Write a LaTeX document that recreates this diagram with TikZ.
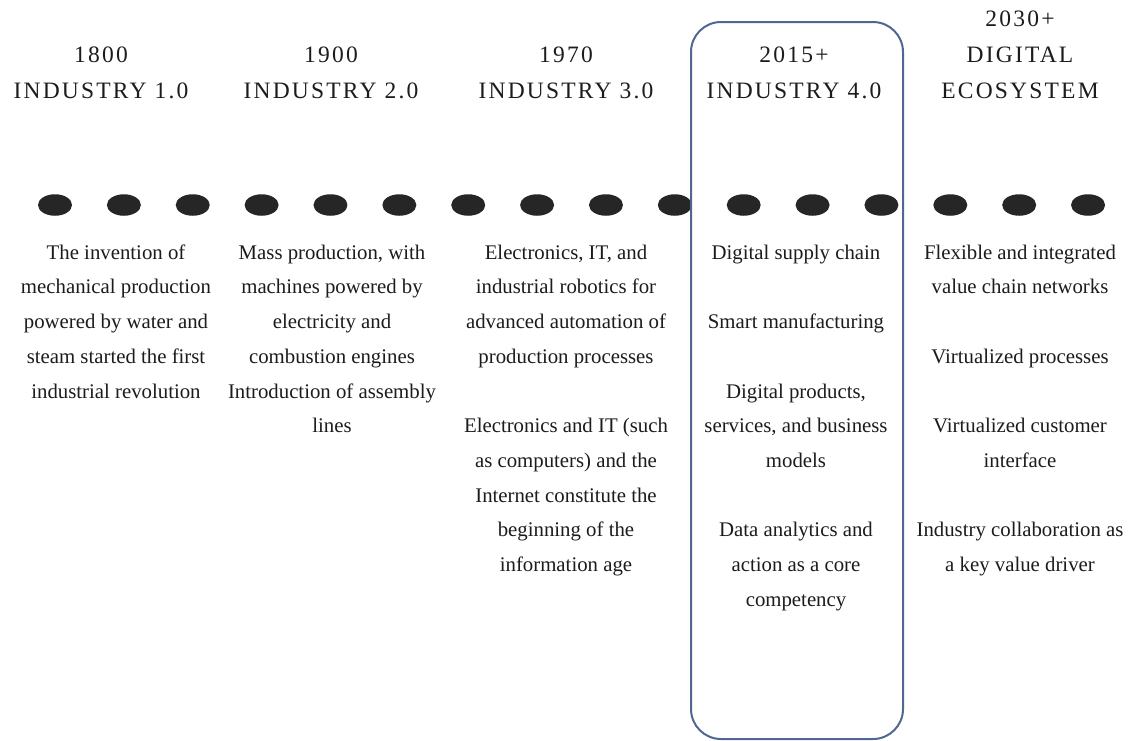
\documentclass[tikz,border=0pt]{standalone}
\usepackage{fontspec}
\setmainfont{Liberation Serif}
\newfontfamily\headfont[LetterSpace=9.4]{Liberation Serif}
\usetikzlibrary{shapes.geometric}
\definecolor{inkgray}{RGB}{28,28,28}
\definecolor{dotgray}{RGB}{38,38,38}
\definecolor{frameblue}{RGB}{80,104,145}
\begin{document}
\begin{tikzpicture}[x=1pt,y=-1pt,
  heading/.style={font=\headfont\fontsize{23.5}{28}\selectfont, text=inkgray, inner sep=0pt, anchor=base},
  bodytext/.style={font=\fontsize{20.8}{34.7}\selectfont, text=inkgray, inner sep=0pt, anchor=north, align=center},
  dotmark/.style={ellipse, fill=dotgray, minimum width=34pt, minimum height=21.5pt, inner sep=0pt},
  eraframe/.style={draw=frameblue, line width=2pt, rounded corners=30pt, inner sep=0pt}]

% canvas
\fill[white] (0,0) rectangle (1134,740);
\useasboundingbox (0,0) rectangle (1134,740);

% era headings
\node[heading] (year1) at (101,62) {1800};
\node[heading] (name1) at (101,98) {INDUSTRY 1.0};
\node[heading] (year2) at (331,62) {1900};
\node[heading] (name2) at (331,98) {INDUSTRY 2.0};
\node[heading] (year3) at (566,62) {1970};
\node[heading] (name3) at (566,98) {INDUSTRY 3.0};
\node[heading] (year4) at (794,62) {2015+};
\node[heading] (name4) at (794,98) {INDUSTRY 4.0};
\node[heading] (year5) at (1020,26) {2030+};
\node[heading] (name5a) at (1020,62) {DIGITAL};
\node[heading] (name5b) at (1020,98) {ECOSYSTEM};

% timeline of dots
\foreach \i in {0,...,15}
  \node[dotmark] (dot\i) at ({55+68.87*\i},205) {};

% era descriptions
\node[bodytext] (text1) at (116,244) {\rule{0pt}{15pt}The invention of\\
  mechanical production\\
  powered by water and\\
  steam started the first\\
  industrial revolution};

\node[bodytext] (text2) at (332,244) {\rule{0pt}{15pt}Mass production, with\\
  machines powered by\\
  electricity and\\
  combustion engines\\
  Introduction of assembly\\
  lines};

\node[bodytext] (text3) at (566,244) {\rule{0pt}{15pt}Electronics, IT, and\\
  industrial robotics for\\
  advanced automation of\\
  production processes\\[34.7pt]
  Electronics and IT (such\\
  as computers) and the\\
  Internet constitute the\\
  beginning of the\\
  information age};

\node[bodytext] (text4) at (796,244) {\rule{0pt}{15pt}Digital supply chain\\[34.7pt]
  Smart manufacturing\\[34.7pt]
  Digital products,\\
  services, and business\\
  models\\[34.7pt]
  Data analytics and\\
  action as a core\\
  competency};

\node[bodytext] (text5) at (1020,244) {\rule{0pt}{15pt}Flexible and integrated\\
  value chain networks\\[34.7pt]
  Virtualized processes\\[34.7pt]
  Virtualized customer\\
  interface\\[34.7pt]
  Industry collaboration as\\
  a key value driver};

% frame around the Industry 4.0 column
\node[eraframe, minimum width=212pt, minimum height=717pt] (era4) at (797,380.5) {};

\end{tikzpicture}
\end{document}
